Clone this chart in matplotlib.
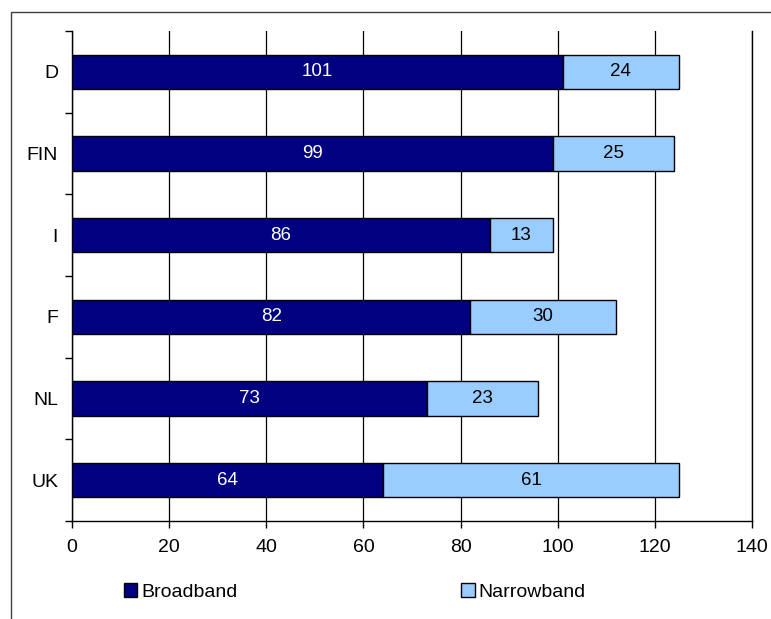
import matplotlib
matplotlib.use("Agg")
import matplotlib.pyplot as plt
from matplotlib.patches import Rectangle

plt.rcParams['font.family'] = ['Liberation Sans', 'DejaVu Sans']

# ---------------------------------------------------------
# data
# ---------------------------------------------------------
countries = ["D", "FIN", "I", "F", "NL", "UK"]
broadband = [101, 99, 86, 82, 73, 64]
narrowband = [24, 25, 13, 30, 23, 61]
x_ticks = [0, 20, 40, 60, 80, 100, 120, 140]

dark = "#000080"
light = "#99CCFF"

W, H = 771, 619
fig = plt.figure(figsize=(W / 100, H / 100), dpi=100)

# outer frame (runs off the right and bottom edges)
fig.patches.append(Rectangle((11 / W, -0.1), 1.2, 1.1 - 12 / H,
                             transform=fig.transFigure, fill=False,
                             edgecolor="#404040", linewidth=1.0))

ax = fig.add_axes([72 / W, 1 - 521 / H, 680 / W, 490 / H])

n = len(countries)
ypos = list(range(n))[::-1]

b1 = ax.barh(ypos, broadband, height=0.42, color=dark,
             edgecolor="black", linewidth=1.0, label="Broadband", zorder=3)
b2 = ax.barh(ypos, narrowband, left=broadband, height=0.42, color=light,
             edgecolor="black", linewidth=1.0, label="Narrowband", zorder=3)

for y, bb, nb in zip(ypos, broadband, narrowband):
    ax.text(bb / 2, y, str(bb), ha="center", va="center",
            color="white", fontsize=13.5, zorder=4)
    ax.text(bb + nb / 2, y, str(nb), ha="center", va="center",
            color="black", fontsize=13.5, zorder=4)

ax.set_xlim(0, 140)
ax.set_ylim(-0.5, n - 0.5)
ax.set_xticks(x_ticks)
ax.set_xticklabels([str(v) for v in x_ticks], fontsize=14)
ax.set_yticks(ypos)
ax.set_yticklabels(countries, fontsize=14)
ax.tick_params(axis="y", length=0, pad=10)
ax.tick_params(axis="x", length=5, width=1, pad=8, color="black")
ax.set_yticks([i - 0.5 for i in range(n + 1)], minor=True)
ax.tick_params(axis="y", which="minor", length=5, width=1, color="black")

ax.grid(axis="x", color="black", linewidth=0.9, zorder=0)
ax.spines["top"].set_visible(False)
for s in ["left", "bottom", "right"]:
    ax.spines[s].set_linewidth(1.0)
    ax.spines[s].set_color("black")

fig.legend(handles=[b1, b2], loc="center left", ncol=2,
           bbox_to_anchor=(114 / W, 1 - 592 / H), frameon=False,
           fontsize=14, handlelength=0.7, handleheight=0.7,
           handletextpad=0.2, columnspacing=11.5, borderpad=0)

fig.savefig("out.png", dpi=100)
